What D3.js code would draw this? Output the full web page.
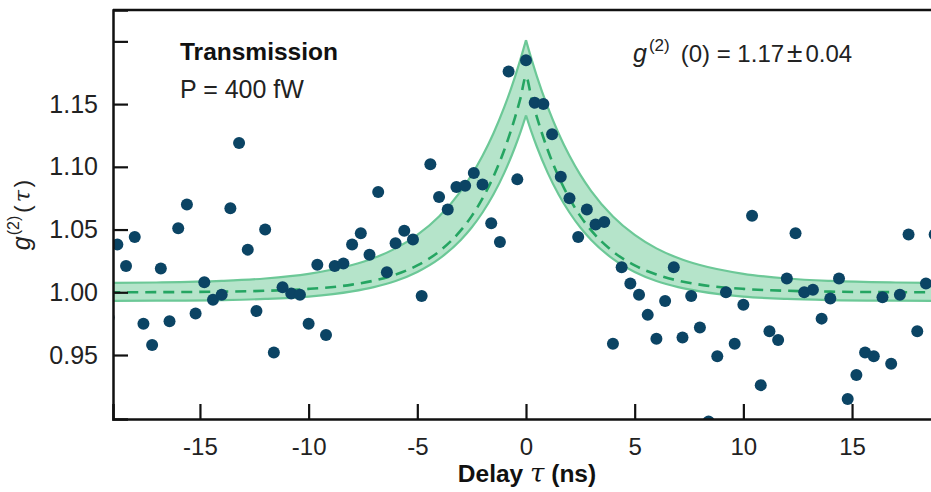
<!DOCTYPE html>
<html>
<head>
<meta charset="utf-8">
<title>g2 transmission</title>
<style>
body { margin: 0; background: #fff; }
svg { display: block; font-family: "Liberation Sans", Arial, sans-serif; }
</style>
</head>
<body>
<div id="chart"></div>
<script src="https://cdn.jsdelivr.net/npm/d3@7"></script>
<script>
// measured points: delay (ns) and g2
const tau = [-19.2, -18.8, -18.4, -18.0, -17.6, -17.2, -16.8, -16.4, -16.0, -15.6, -15.2, -14.8,
  -14.4, -14.0, -13.6, -13.2, -12.8, -12.4, -12.0, -11.6, -11.2, -10.8, -10.4, -10.0,
  -9.6, -9.2, -8.8, -8.4, -8.0, -7.6, -7.2, -6.8, -6.4, -6.0, -5.6, -5.2,
  -4.8, -4.4, -4.0, -3.6, -3.2, -2.8, -2.4, -2.0, -1.6, -1.2, -0.8, -0.4,
  0.0, 0.4, 0.8, 1.2, 1.6, 2.0, 2.4, 2.8, 3.2, 3.6, 4.0, 4.4,
  4.8, 5.2, 5.6, 6.0, 6.4, 6.8, 7.2, 7.6, 8.0, 8.4, 8.8, 9.2,
  9.6, 10.0, 10.4, 10.8, 11.2, 11.6, 12.0, 12.4, 12.8, 13.2, 13.6, 14.0,
  14.4, 14.8, 15.2, 15.6, 16.0, 16.4, 16.8, 17.2, 17.6, 18.0, 18.4, 18.8]
const g2 = [0.980, 1.038, 1.021, 1.044, 0.975, 0.958, 1.019, 0.977, 1.051, 1.070, 0.983, 1.008,
  0.994, 0.998, 1.067, 1.119, 1.034, 0.985, 1.050, 0.952, 1.004, 0.999, 0.998, 0.975,
  1.022, 0.966, 1.021, 1.023, 1.038, 1.047, 1.030, 1.080, 1.016, 1.039, 1.049, 1.042,
  0.997, 1.102, 1.076, 1.066, 1.084, 1.085, 1.095, 1.086, 1.055, 1.040, 1.176, 1.090,
  1.185, 1.151, 1.150, 1.126, 1.092, 1.075, 1.044, 1.066, 1.054, 1.056, 0.959, 1.020,
  1.007, 0.998, 0.982, 0.963, 0.993, 1.020, 0.964, 0.997, 0.972, 0.897, 0.949, 1.000,
  0.959, 0.990, 1.061, 0.926, 0.969, 0.962, 1.011, 1.047, 1.000, 1.002, 0.979, 0.995,
  1.011, 0.915, 0.934, 0.952, 0.949, 0.996, 0.943, 0.998, 1.046, 0.969, 1.007, 1.046]

// fit curve, one side (|tau|), mirrored below
const fitAbsTau = [0, 0.25, 0.5, 1, 1.5, 2, 2.5, 3, 4, 5, 6, 7, 8, 10, 12, 14, 17, 20]
const fitMid   = [1.1720, 1.1550, 1.1397, 1.1134, 1.0921, 1.0748, 1.0607, 1.0493, 1.0325, 1.0214,
  1.0141, 1.0093, 1.0061, 1.0027, 1.0012, 1.0005, 1.0001, 1.0000]
const fitUpper = [1.2010, 1.1860, 1.1721, 1.1475, 1.1266, 1.1088, 1.0936, 1.0807, 1.0604, 1.0457,
  1.0350, 1.0273, 1.0217, 1.0147, 1.0110, 1.0091, 1.0078, 1.0073]
const fitLower = [1.1410, 1.1279, 1.1160, 1.0952, 1.0779, 1.0636, 1.0516, 1.0417, 1.0266, 1.0162,
  1.0090, 1.0041, 1.0007, 0.9966, 0.9947, 0.9938, 0.9933, 0.9931]

const xTicks = [-15, -10, -5, 0, 5, 10, 15]
const yTicks = [0.95, 1.00, 1.05, 1.10, 1.15, 1.20]
const yLabelled = ["0.95", "1.00", "1.05", "1.10", "1.15"]

const width = 931, height = 492
const mLeft = 113, mRight = 939, mTop = 10, mBottom = 419

const x = d3.scaleLinear().domain([-19, 19]).range([mLeft, mRight])
const y = d3.scaleLinear().domain([0.899, 1.225]).range([mBottom, mTop])

const svg = d3.select("#chart").append("svg")
  .attr("width", width).attr("height", height)

svg.append("defs").append("clipPath").attr("id", "plotclip")
  .append("rect").attr("x", mLeft).attr("y", mTop)
  .attr("width", mRight - mLeft).attr("height", mBottom - mTop)

// build symmetric fit table
const fit = []
for (let i = fitAbsTau.length - 1; i > 0; i--)
  fit.push({t: -fitAbsTau[i], m: fitMid[i], u: fitUpper[i], l: fitLower[i]})
for (let i = 0; i < fitAbsTau.length; i++)
  fit.push({t: fitAbsTau[i], m: fitMid[i], u: fitUpper[i], l: fitLower[i]})
const leftSide = fit.filter(d => d.t <= 0), rightSide = fit.filter(d => d.t >= 0)

const plot = svg.append("g").attr("clip-path", "url(#plotclip)")

const area = d3.area().x(d => x(d.t)).y0(d => y(d.l)).y1(d => y(d.u)).curve(d3.curveMonotoneX)
const lineU = d3.line().x(d => x(d.t)).y(d => y(d.u)).curve(d3.curveMonotoneX)
const lineL = d3.line().x(d => x(d.t)).y(d => y(d.l)).curve(d3.curveMonotoneX)
const lineM = d3.line().x(d => x(d.t)).y(d => y(d.m)).curve(d3.curveMonotoneX)

for (const side of [leftSide, rightSide]) {
  plot.append("path").attr("d", area(side)).attr("fill", "#b5e4ca")
  plot.append("path").attr("d", lineU(side)).attr("fill", "none")
    .attr("stroke", "#6cc897").attr("stroke-width", 2.2)
  plot.append("path").attr("d", lineL(side)).attr("fill", "none")
    .attr("stroke", "#6cc897").attr("stroke-width", 2.2)
}
plot.append("path").attr("d", lineM(fit)).attr("fill", "none")
  .attr("stroke", "#25a562").attr("stroke-width", 2.6)
  .attr("stroke-dasharray", "11,7")

plot.selectAll("circle").data(tau).join("circle")
  .attr("cx", d => x(d))
  .attr("cy", (d, i) => y(g2[i]))
  .attr("r", 6)
  .attr("fill", "#0b4464")

// frame
svg.append("line").attr("x1", mLeft).attr("x2", width).attr("y1", mTop).attr("y2", mTop)
  .attr("stroke", "#111").attr("stroke-width", 2.5)

const xAxis = svg.append("g").attr("transform", `translate(0,${mBottom})`)
  .call(d3.axisBottom(x).tickValues(xTicks).tickSize(-15).tickPadding(19).tickFormat(d => String(d)))
xAxis.select(".domain").attr("stroke", "#111").attr("stroke-width", 2.5)
xAxis.selectAll(".tick line").attr("stroke", "#111").attr("stroke-width", 2.2)
xAxis.selectAll("text").attr("font-size", 24).attr("fill", "#222")
  .attr("font-family", "Liberation Sans, Arial, sans-serif")

const yAxis = svg.append("g").attr("transform", `translate(${mLeft},0)`)
  .call(d3.axisLeft(y).tickValues(yTicks).tickSize(-15).tickPadding(15)
    .tickFormat(d => { const s = d3.format(".2f")(d); return yLabelled.includes(s) ? s : "" }))
yAxis.select(".domain").attr("stroke", "#111").attr("stroke-width", 2.5)
yAxis.selectAll(".tick line").attr("stroke", "#111").attr("stroke-width", 2.2)
yAxis.selectAll("text").attr("font-size", 25).attr("fill", "#222")
  .attr("font-family", "Liberation Sans, Arial, sans-serif")

// axis titles
const xt = svg.append("text").attr("x", 527).attr("y", 482)
  .attr("text-anchor", "middle").attr("font-size", 24.5).attr("font-weight", "bold").attr("fill", "#111")
xt.append("tspan").text("Delay ")
xt.append("tspan").attr("font-style", "italic").attr("font-weight", "normal")
  .attr("font-family", "DejaVu Serif, serif").attr("font-size", 26).text("τ")
xt.append("tspan").text(" (ns)")

const yt = svg.append("text").attr("transform", "translate(30,215) rotate(-90)")
  .attr("text-anchor", "middle").attr("font-size", 22).attr("fill", "#222")
yt.append("tspan").attr("font-style", "italic").attr("font-size", 25).text("g")
yt.append("tspan").attr("font-size", 16).attr("dy", -11).attr("dx", 1).text("(2)")
yt.append("tspan").attr("dy", 11).attr("dx", 3).text("(")
yt.append("tspan").attr("font-style", "italic").attr("dx", 3).attr("font-family", "DejaVu Serif, serif").text("τ")
yt.append("tspan").attr("dx", 3).text(")")

// annotations
svg.append("text").attr("x", 180).attr("y", 60).attr("font-size", 24.5)
  .attr("font-weight", "bold").attr("fill", "#111").text("Transmission")
svg.append("text").attr("x", 180).attr("y", 98).attr("font-size", 25)
  .attr("fill", "#222").text("P = 400 fW")

const ann = svg.append("text").attr("x", 633).attr("y", 62).attr("font-size", 24).attr("fill", "#222")
ann.append("tspan").attr("font-style", "italic").attr("font-size", 25).text("g")
ann.append("tspan").attr("font-size", 17).attr("dy", -11).attr("dx", 2).text("(2)")
ann.append("tspan").attr("dy", 11).attr("dx", 11).text("(0) = 1.17")
ann.append("tspan").attr("dx", 3).attr("font-size", 28).text("±")
ann.append("tspan").attr("dx", 3).text("0.04")
</script>
</body>
</html>
